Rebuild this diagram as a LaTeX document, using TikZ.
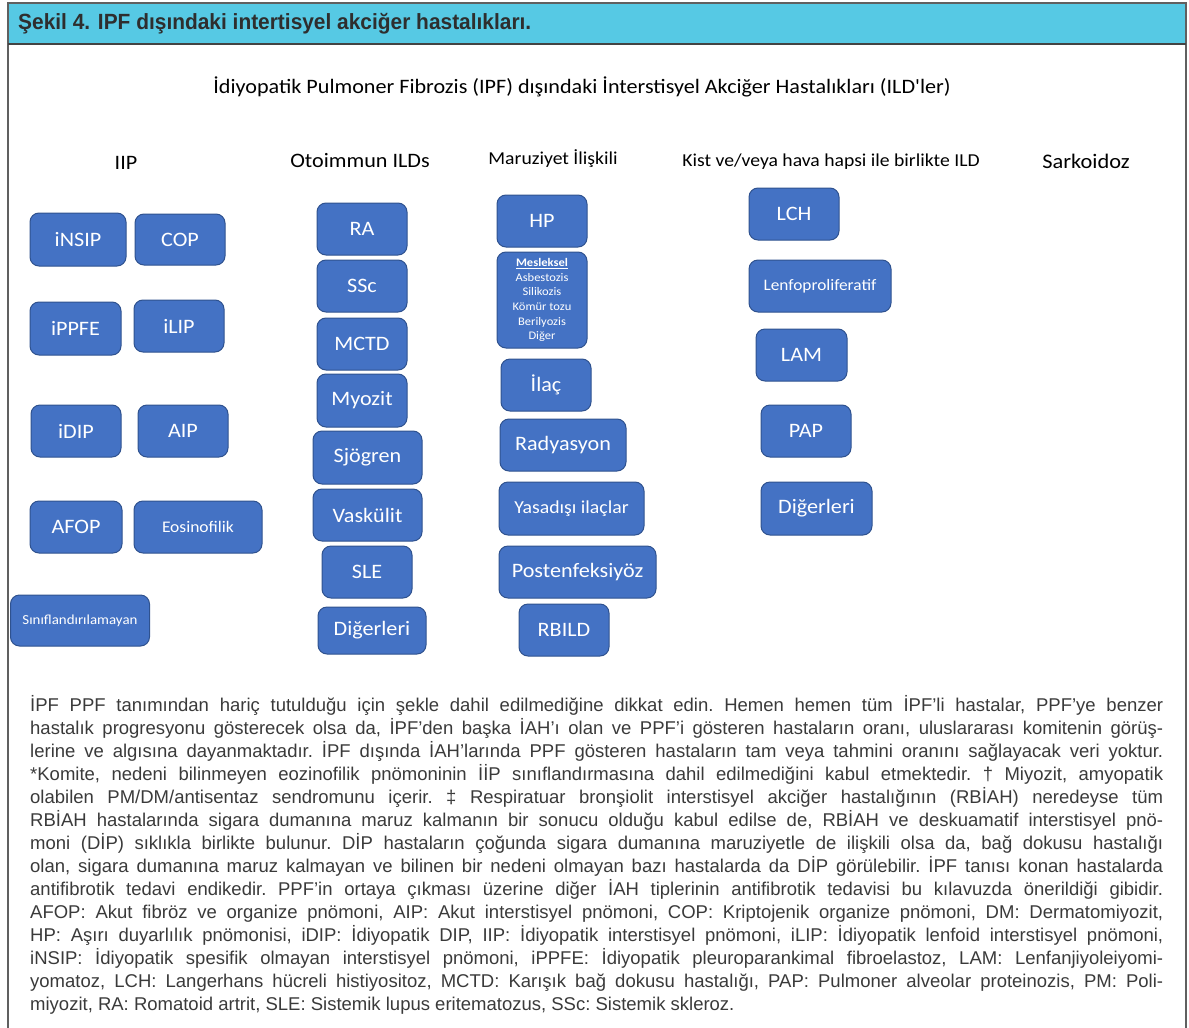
\documentclass[tikz,border=0pt]{standalone}
\usepackage{fontspec}
\setmainfont{Carlito}[Ligatures=TeXOff]
\newfontfamily\hdrfont{Carlito}[FakeStretch=1.08, Ligatures=TeXOff]
\newfontfamily\notefont{Liberation Sans}
\newfontfamily\titlefont{Liberation Sans}[FakeStretch=0.95]

\definecolor{barcyan}{HTML}{56C9E4}
\definecolor{framegray}{HTML}{606060}
\definecolor{boxfill}{HTML}{4472C4}
\definecolor{boxline}{HTML}{2F528F}
\definecolor{titlegray}{HTML}{2E2E2E}
\definecolor{notegray}{HTML}{3A3A3A}

\begin{document}
\begin{tikzpicture}[x=1pt,y=-1pt,
  box/.style={draw=boxline, line width=1pt, fill=boxfill, rounded corners=9pt,
    text=white, inner sep=0pt, align=center, font=\hdrfont\fontsize{20.5}{24}\selectfont},
  bx/.style 2 args={box, minimum width=#1pt, minimum height=#2pt},
  hdr/.style={text=black, inner sep=0pt}]

\useasboundingbox (0,0) rectangle (1189,1028);

% frame and title bar
\fill[barcyan] (8,3) rectangle (1186,44);
\draw[framegray, line width=2pt] (8,1028) -- (8,3) -- (1186,3) -- (1186,1028);
\draw[framegray!70!black, line width=1.5pt] (8,44) -- (1186,44);
\node[anchor=west, inner sep=0pt, text=titlegray,
  font=\titlefont\bfseries\fontsize{22}{26}\selectfont] (title) at (18,24)
  {Şekil 4. IPF dışındaki intertisyel akciğer hastalıkları.};

% headings
\node[hdr, font=\hdrfont\fontsize{20.5}{24}\selectfont] (main) at (582,87)
  {İdiyopatik Pulmoner Fibrozis (IPF) dışındaki İnterstisyel Akciğer Hastalıkları (ILD'ler)};
\node[hdr, font=\hdrfont\fontsize{20.5}{24}\selectfont] (hiip) at (126,163) {IIP};
\node[hdr, font=\hdrfont\fontsize{20.5}{24}\selectfont] (hoto) at (360,161) {Otoimmun ILDs};
\node[hdr, font=\hdrfont\fontsize{18.2}{22}\selectfont] (hmar) at (553,159) {Maruziyet İlişkili};
\node[hdr, font=\hdrfont\fontsize{18.2}{22}\selectfont] (hkist) at (831,162) {Kist ve/veya hava hapsi ile birlikte ILD};
\node[hdr, font=\hdrfont\fontsize{20.7}{24}\selectfont] (hsar) at (1086,161) {Sarkoidoz};

% IIP
\node[bx={96}{53}] (insip) at (78,239.5) {iNSIP};
\node[bx={90}{51}] (cop) at (180,239.5) {COP};
\node[bx={91}{53}] (ippfe) at (75.5,328.5) {iPPFE};
\node[bx={90}{52}] (ilip) at (179,326) {iLIP};
\node[bx={90}{52}] (idip) at (76,431) {iDIP};
\node[bx={90}{52}] (aip) at (183,431) {AIP};
\node[bx={92}{52}] (afop) at (76,527) {AFOP};
\node[bx={128}{52}, font=\hdrfont\fontsize{16.2}{19}\selectfont] (eos) at (198,527) {Eosinofilik};
\node[bx={139}{51}, font=\hdrfont\fontsize{13.8}{17}\selectfont] (unc) at (80,620.5) {Sınıflandırılamayan};

% Otoimmun
\node[bx={90}{52}] (ra) at (362,229) {RA};
\node[bx={90}{52}] (ssc) at (362,286) {SSc};
\node[bx={90}{52}] (mctd) at (362,344) {MCTD};
\node[bx={90}{53}] (myo) at (362,400.5) {Myozit};
\node[bx={109}{53}] (sjo) at (367.5,457.5) {Sjögren};
\node[bx={109}{52}] (vask) at (367.5,515) {Vaskülit};
\node[bx={90}{52}] (sle) at (367,572) {SLE};
\node[bx={108}{47}] (digA) at (372,630.5) {Diğerleri};

% Maruziyet
\node[bx={90}{52}] (hp) at (542,221) {HP};
\node[bx={90}{96}, font=\hdrfont\fontsize{11.6}{14.7}\selectfont] (mes) at (542,300)
  {\underline{\textbf{Mesleksel}}\\Asbestozis\\Silikozis\\Kömür tozu\\Berilyozis\\Diğer};
\node[bx={90}{52}] (ilac) at (546,385) {İlaç};
\node[bx={126}{52}] (rad) at (563,445) {Radyasyon};
\node[bx={145}{53}, font=\hdrfont\fontsize{18.3}{22}\selectfont] (yas) at (571.5,508.5) {Yasadışı ilaçlar};
\node[bx={157}{52}] (post) at (577.5,572) {Postenfeksiyöz};
\node[bx={90}{52}] (rbild) at (564,630) {RBILD};

% Kist
\node[bx={90}{52}] (lch) at (794,214) {LCH};
\node[bx={142}{52}, font=\hdrfont\fontsize{16}{20}\selectfont] (lenfo) at (820,286) {Lenfoproliferatif};
\node[bx={91}{52}] (lam) at (801.5,355) {LAM};
\node[bx={90}{52}] (pap) at (806,431) {PAP};
\node[bx={111}{53}] (digB) at (816.5,508.5) {Diğerleri};

% notes
\node[anchor=north west, inner sep=0pt, text width=1133pt, align=justify, text=notegray,
  font=\notefont\fontsize{18.5}{23}\selectfont\frenchspacing] (note) at (30,695)
{İPF PPF tanımından hariç tutulduğu için şekle dahil edilmediğine dikkat edin. Hemen hemen tüm İPF’li hastalar, PPF’ye benzer\linebreak
hastalık progresyonu gösterecek olsa da, İPF’den başka İAH’ı olan ve PPF’i gösteren hastaların oranı, uluslararası komitenin görüş-\linebreak
lerine ve algısına dayanmaktadır. İPF dışında İAH’larında PPF gösteren hastaların tam veya tahmini oranını sağlayacak veri yoktur.\linebreak
*Komite, nedeni bilinmeyen eozinofilik pnömoninin İİP sınıflandırmasına dahil edilmediğini kabul etmektedir. † Miyozit, amyopatik\linebreak
olabilen PM/DM/antisentaz sendromunu içerir. ‡ Respiratuar bronşiolit interstisyel akciğer hastalığının (RBİAH) neredeyse tüm\linebreak
RBİAH hastalarında sigara dumanına maruz kalmanın bir sonucu olduğu kabul edilse de, RBİAH ve deskuamatif interstisyel pnö-\linebreak
moni (DİP) sıklıkla birlikte bulunur. DİP hastaların çoğunda sigara dumanına maruziyetle de ilişkili olsa da, bağ dokusu hastalığı\linebreak
olan, sigara dumanına maruz kalmayan ve bilinen bir nedeni olmayan bazı hastalarda da DİP görülebilir. İPF tanısı konan hastalarda\linebreak
antifibrotik tedavi endikedir. PPF’in ortaya çıkması üzerine diğer İAH tiplerinin antifibrotik tedavisi bu kılavuzda önerildiği gibidir.\linebreak
AFOP: Akut fibröz ve organize pnömoni, AIP: Akut interstisyel pnömoni, COP: Kriptojenik organize pnömoni, DM: Dermatomiyozit,\linebreak
HP: Aşırı duyarlılık pnömonisi, iDIP: İdiyopatik DIP, IIP: İdiyopatik interstisyel pnömoni, iLIP: İdiyopatik lenfoid interstisyel pnömoni,\linebreak
iNSIP: İdiyopatik spesifik olmayan interstisyel pnömoni, iPPFE: İdiyopatik pleuroparankimal fibroelastoz, LAM: Lenfanjiyoleiyomi-\linebreak
yomatoz, LCH: Langerhans hücreli histiyositoz, MCTD: Karışık bağ dokusu hastalığı, PAP: Pulmoner alveolar proteinozis, PM: Poli-\linebreak
miyozit, RA: Romatoid artrit, SLE: Sistemik lupus eritematozus, SSc: Sistemik skleroz.};
\end{tikzpicture}
\end{document}
